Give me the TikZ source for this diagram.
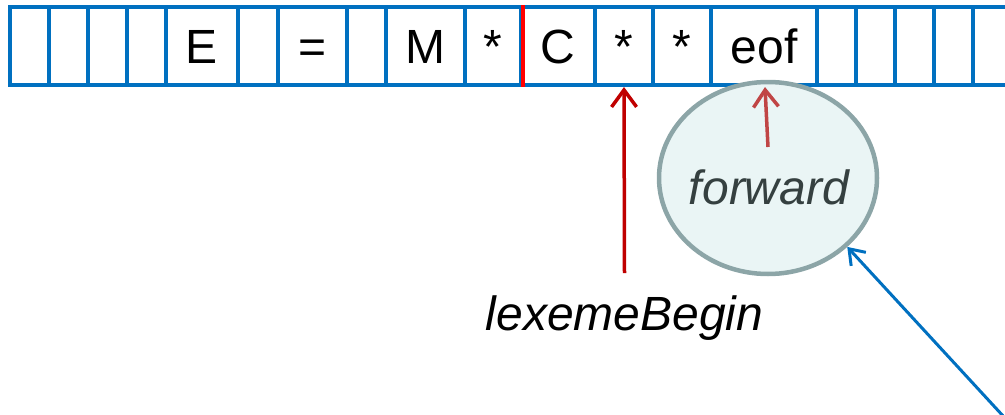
\documentclass[tikz,border=0pt]{standalone}
\usepackage{fontspec}
\setmainfont{Liberation Sans}
\usetikzlibrary{arrows.meta,shapes.geometric}

\definecolor{tapeblue}{HTML}{0070C0}
\definecolor{darkred}{HTML}{C00000}
\definecolor{softred}{HTML}{C04545}
\definecolor{bubblefill}{HTML}{EAF5F5}
\definecolor{bubbleline}{HTML}{8CA5A7}
\definecolor{bubbletext}{HTML}{354040}

\tikzset{
  cell/.style={draw=tapeblue, line width=4pt, rectangle, inner sep=0pt,
    minimum height=78pt, text height=35pt, text depth=0pt,
    font=\fontsize{48}{56}\selectfont},
  ptrtext/.style={inner sep=0pt, anchor=base,
    font=\fontsize{48}{56}\selectfont\itshape},
  bubble/.style={ellipse, draw=bubbleline, fill=bubblefill, line width=4.5pt,
    minimum width=218pt, minimum height=192pt, inner sep=0pt},
  ptrarrow/.style={line width=3.5pt, -{Straight Barb[length=17pt,width=25pt]}},
  linkarrow/.style={draw=tapeblue, line width=3pt,
    {Straight Barb[length=14pt,width=20pt]}-},
}

\begin{document}
\begin{tikzpicture}[x=1pt, y=-1pt]
  \useasboundingbox (0,0) rectangle (1005,415);
  \clip (0,0) rectangle (1005,415);

  % input buffer cells: left edge / right edge / contents
  \foreach \l/\r/\t [count=\i from 0] in {
      10/49/{}, 49/88/{}, 88/127/{}, 127/166/{}, 166/238/E, 238/278/{},
      278/347/=, 347/386/{}, 386/465/M, 465/521/*, 521/595/C, 595/653/*,
      653/711/*, 711/817/eof, 817/856/{}, 856/895/{}, 895/934/{},
      934/973/{}, 973/1012/{}}
    \node[cell, minimum width={(\r-\l)*1pt}] (c\i) at ({(\l+\r)/2}, 46) {\t};

  % lexeme start marker
  \draw[red, line width=3.5pt] (c9.north east) -- (c9.south east);

  % pointer labels
  \node[ptrtext] (lex) at (624.5, 330) {lexemeBegin};
  \node[bubble] (fw) at (768, 178) {};
  \node[ptrtext, text=bubbletext] (fwl) at (769, 204) {forward};

  % pointers into the buffer
  \draw[ptrarrow, darkred] ([yshift=22pt]lex.north) -- (c11.south);
  \draw[ptrarrow, softred] ([yshift=31pt]fw.center) -- ([xshift=1pt]c13.south);

  % incoming link to the forward pointer
  \coordinate (linkend) at (1016, 430);
  \draw[linkarrow] (fw.-41) -- (linkend);
\end{tikzpicture}
\end{document}
